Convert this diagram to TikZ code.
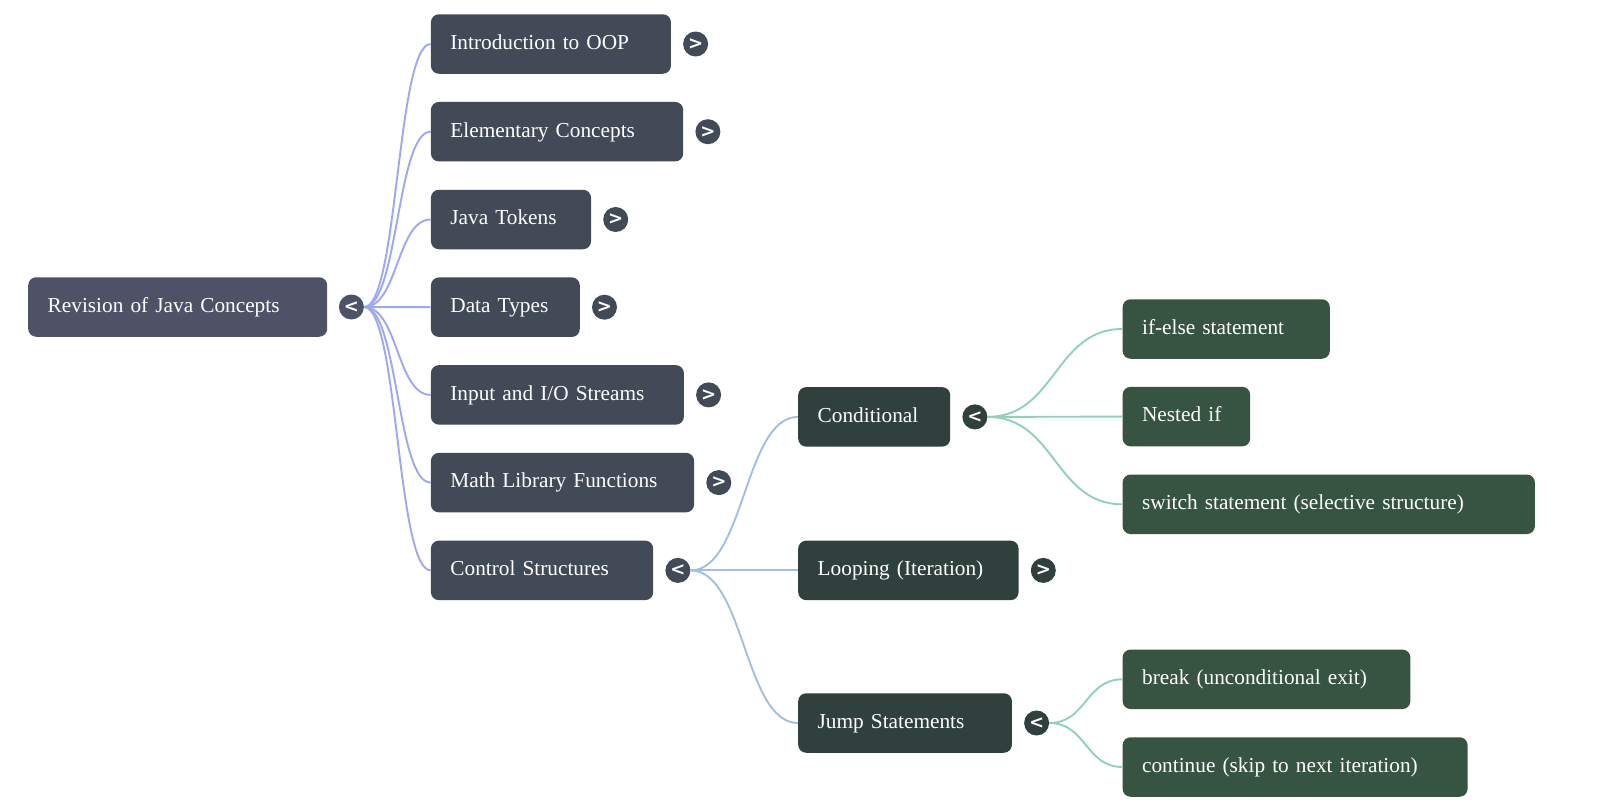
\documentclass[tikz,border=0pt]{standalone}
\usepackage{fontspec}
\setmainfont{Liberation Serif}
\newfontfamily\symfont{DejaVu Sans}
\definecolor{rootfill}{HTML}{4F5167}
\definecolor{lonefill}{HTML}{414A56}
\definecolor{ltwofill}{HTML}{30413D}
\definecolor{lthreefill}{HTML}{375443}
\definecolor{edgeA}{HTML}{9DA7F6}
\definecolor{edgeB}{HTML}{A3BEE2}
\definecolor{edgeC}{HTML}{8DD1BE}
\begin{document}
\begin{tikzpicture}[x=1pt,y=-1pt,
  box/.style={rounded corners=8pt, anchor=west, minimum height=59.5pt,
    inner xsep=19.5pt, inner ysep=0pt, align=left, text=white,
    font=\fontsize{21.3}{26}\selectfont, text height=15.3pt, text depth=4.7pt,
    text width=#1},
  tog/.style={circle, inner sep=0pt, minimum size=25pt, text=white,
    font=\symfont\bfseries\fontsize{18}{18}\selectfont},
  ea/.style={draw=edgeA, line width=1.9pt},
  eb/.style={draw=edgeB, line width=1.9pt},
  ec/.style={draw=edgeC, line width=1.9pt}]
\useasboundingbox (0,0) rectangle (1600,811);
% root
\node[box=260pt, fill=rootfill] (root) at (28,307) {Revision of Java Concepts};
\node[tog, fill=rootfill] (troot) at ([xshift=24pt]root.east) {<};
% level 1
\node[box=201pt, fill=lonefill] (intro) at (430.7,44) {Introduction to OOP};
\node[box=213.3pt, fill=lonefill] (elem) at (430.7,131.7) {Elementary Concepts};
\node[box=121.1pt, fill=lonefill] (tok) at (430.7,219.5) {Java Tokens};
\node[box=109.9pt, fill=lonefill] (types) at (430.7,307.2) {Data Types};
\node[box=214pt, fill=lonefill] (input) at (430.7,394.9) {Input and I/O Streams};
\node[box=224.2pt, fill=lonefill] (math) at (430.7,482.6) {Math Library Functions};
\node[box=183.3pt, fill=lonefill] (ctrl) at (430.7,570.4) {Control Structures};
\node[tog, fill=lonefill] (tintro) at ([xshift=24.5pt]intro.east) {>};
\node[tog, fill=lonefill] (telem) at ([xshift=24.5pt]elem.east) {>};
\node[tog, fill=lonefill] (ttok) at ([xshift=24.5pt]tok.east) {>};
\node[tog, fill=lonefill] (ttypes) at ([xshift=24.5pt]types.east) {>};
\node[tog, fill=lonefill] (tinput) at ([xshift=24.5pt]input.east) {>};
\node[tog, fill=lonefill] (tmath) at ([xshift=24.5pt]math.east) {>};
\node[tog, fill=lonefill] (tctrl) at ([xshift=24.5pt]ctrl.east) {<};
% level 2
\node[box=113pt, fill=ltwofill] (cond) at (798,416.9) {Conditional};
\node[box=181.4pt, fill=ltwofill] (loop) at (798,570.4) {Looping (Iteration)};
\node[box=174.7pt, fill=ltwofill] (jump) at (798,723) {Jump Statements};
\node[tog, fill=ltwofill] (tcond) at ([xshift=24.5pt]cond.east) {<};
\node[tog, fill=ltwofill] (tloop) at ([xshift=24.5pt]loop.east) {>};
\node[tog, fill=ltwofill] (tjump) at ([xshift=24.5pt]jump.east) {<};
% level 3
\node[box=168.2pt, fill=lthreefill] (ifelse) at (1122.4,329) {if-else statement};
\node[box=88.6pt, fill=lthreefill] (nested) at (1122.4,416.6) {Nested if};
\node[box=373.3pt, fill=lthreefill] (switch) at (1122.4,504.3) {switch statement (selective structure)};
\node[box=248.8pt, fill=lthreefill] (brk) at (1122.4,679.3) {break (unconditional exit)};
\node[box=306pt, fill=lthreefill] (cont) at (1122.4,767) {continue (skip to next iteration)};
% edges
\foreach \c in {intro,elem,tok,types,input,math,ctrl}
  \draw[ea] (troot.east) .. controls +(34,0) and +(-34,0) .. (\c.west);
\foreach \c in {cond,loop,jump}
  \draw[eb] (tctrl.east) .. controls +(54,0) and +(-54,0) .. (\c.west);
\foreach \c in {ifelse,nested,switch}
  \draw[ec] (tcond.east) .. controls +(68,0) and +(-68,0) .. (\c.west);
\foreach \c in {brk,cont}
  \draw[ec] (tjump.east) .. controls +(37,0) and +(-37,0) .. (\c.west);
\end{tikzpicture}
\end{document}
